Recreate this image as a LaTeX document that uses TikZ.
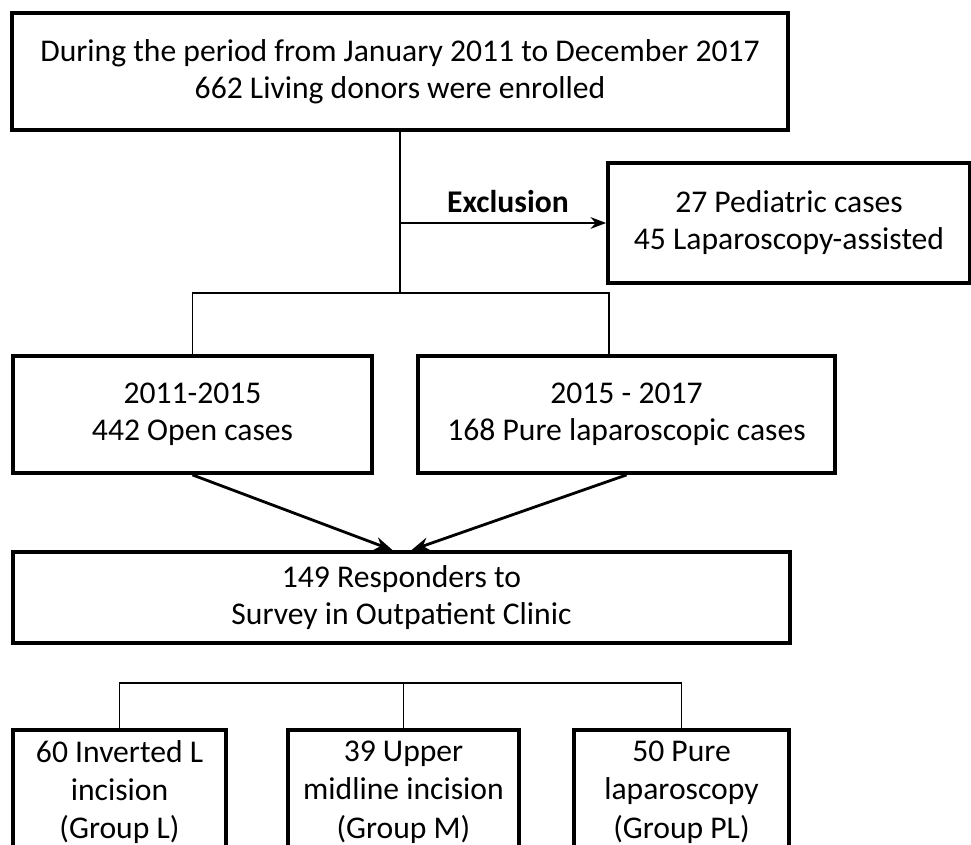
\documentclass[tikz,border=0pt]{standalone}
\usepackage{fontspec}
\setmainfont{Carlito}
\usepackage{tikz}
\usetikzlibrary{positioning, arrows.meta, calc}

\begin{document}
\begin{tikzpicture}[
  x=0.02cm, y=-0.02cm,
  >=Stealth,
  box/.style={draw, line width=2.2pt, align=center, inner sep=0pt,
    font=\fontsize{18pt}{21pt}\selectfont},
  grp/.style={box, minimum height=2.48cm, font=\fontsize{18pt}{21.8pt}\selectfont},
  lbl/.style={font=\fontsize{18pt}{21pt}\selectfont\bfseries},
  conn/.style={line width=1.1pt},
  arr/.style={->, line width=1.6pt},
]
\useasboundingbox (0,0) rectangle (971,845);
\clip (0,0) rectangle (971,845);

% --- Enrolment and exclusion ---
\node[box, minimum width=15.52cm, minimum height=2.34cm] (enrol) at (400,71.5)
  {During the period from January 2011 to December 2017\\662 Living donors were enrolled};
\node[box, minimum width=7.24cm, minimum height=2.4cm] (excl) at (789,223)
  {27 Pediatric cases\\45 Laparoscopy-assisted};
\node[lbl] (exlbl) at (508,202) {Exclusion};

% --- Period groups ---
\node[box, minimum width=7.18cm, minimum height=2.34cm] (open) at (192.5,414.5)
  {2011-2015\\442 Open cases};
\node[box, minimum width=8.34cm, minimum height=2.34cm] (pure) at (626.5,414.5)
  {2015 - 2017\\168 Pure laparoscopic cases};

% --- Survey ---
\node[box, minimum width=15.54cm, minimum height=1.82cm] (survey) at (401.5,597.5)
  {149 Responders to\\Survey in Outpatient Clinic};

% --- Incision groups (cut at the bottom edge) ---
\node[grp, minimum width=4.26cm] (grpL)  at (119.5,792) {60 Inverted L\\incision\\(Group L)};
\node[grp, minimum width=4.62cm] (grpM)  at (403.5,792) {39 Upper\\midline incision\\(Group M)};
\node[grp, minimum width=4.3cm]  (grpPL) at (681.5,792) {50 Pure\\laparoscopy\\(Group PL)};

\coordinate (split) at (400,293);
\coordinate (pureIn) at (609,355);
\coordinate (split2) at (402,683);

% --- Connectors ---
\draw[conn] (enrol.south) -- (split);
\draw[conn, ->, line width=1.3pt] (enrol.south |- excl.west) -- (excl.west);
\draw[conn] (open.north) |- (split) -| (pureIn);

\draw[arr] (open.south) -- ([xshift=-0.18cm]survey.north);
\draw[arr] (pure.south) -- ([xshift=0.2cm]survey.north);

\draw[conn] (grpL.north) |- (split2) -| (grpPL.north);
\draw[conn] (grpM.north) -- (grpM.north |- split2);

\end{tikzpicture}
\end{document}
